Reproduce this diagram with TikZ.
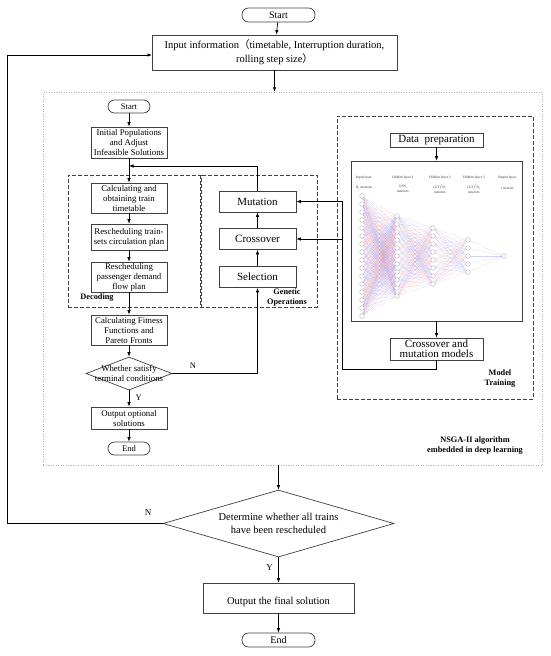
\documentclass[tikz,border=0pt]{standalone}
\usepackage{fontspec}
\setmainfont{Liberation Serif}
\newfontfamily\cjk{Noto Sans CJK SC}
\usetikzlibrary{arrows.meta,shapes.geometric,positioning,calc}
\definecolor{boxgray}{HTML}{404040}
\definecolor{netblue}{HTML}{6F6FF2}
\definecolor{netred}{HTML}{F07878}
\tikzset{
	arr/.style={-{Latex[length=4.5pt,width=3.5pt]}, line width=0.7pt},
	flowbox/.style={draw=boxgray, line width=0.7pt, align=center, inner sep=1pt, font=\fontsize{11}{11}\selectfont},
	leftbox/.style={flowbox, minimum width=76pt, font=\fontsize{8.8}{10}\selectfont},
	gobox/.style={flowbox, minimum width=77pt, minimum height=21pt},
	terminal/.style={draw=boxgray, line width=0.7pt, rounded corners=6.5pt, align=center, inner sep=0pt},
	decide/.style={diamond, draw=boxgray, line width=0.7pt, inner sep=0pt, align=center},
	dashbox/.style={draw=boxgray, line width=0.8pt, dash pattern=on 4pt off 2pt, inner sep=0pt},
	dotbox/.style={draw=gray!60, line width=0.5pt, dotted, inner sep=0pt},
	boldlab/.style={font=\fontsize{8.3}{10}\selectfont\bfseries, align=center, inner sep=0pt},
	neuron/.style={circle, draw=gray!75, fill=white, line width=0.3pt, minimum size=4.6pt, inner sep=0pt},
	synapse/.style={line width=0.25pt, draw opacity=0.3},
	layertxt/.style={font=\fontsize{3.6}{4.4}\selectfont, align=center, inner sep=0pt, text=black!80},
}
\begin{document}
\begin{tikzpicture}[x=1pt, y=-1pt]
	\useasboundingbox (0,0) rectangle (550,656);
	% outer flow
	\node[terminal, minimum width=73pt, minimum height=14pt, font=\fontsize{10}{10}\selectfont] (start) at (278.5,15) {Start};
	\node[flowbox, minimum width=245pt, minimum height=35pt, font=\fontsize{10.5}{10.5}\selectfont] (input) at (274.5,52.5) {Input information{\cjk （}timetable, Interruption duration,\\[2pt] rolling step size{\cjk ）}};
	\node[dotbox, minimum width=499pt, minimum height=373pt] (nsga) at (292.5,278.5) {};
	\node[decide, aspect=3.45, minimum width=231pt, minimum height=67pt, font=\fontsize{10.5}{12.5}\selectfont] (allres) at (278.5,523.5) {Determine whether all trains\\have been rescheduled};
	\node[flowbox, minimum width=151pt, minimum height=30pt, font=\fontsize{10.5}{10.5}\selectfont] (final) at (278.5,598) {\strut\\[-4pt]Output the final solution};
	\node[terminal, minimum width=73pt, minimum height=14pt, font=\fontsize{10}{10}\selectfont] (end) at (278.5,640) {End};
	\coordinate (fbin) at (152,55);
	\coordinate (fbcorner) at (7,523.5);
	\draw[arr] (start) -- (input);
	\draw[arr] (input) -- (input |- nsga.north);
	\draw[arr] (allres |- nsga.south) -- (allres);
	\draw[arr] (allres) -- (final) node[pos=0.4, left=2pt, font=\fontsize{9}{9}\selectfont]{Y};
	\draw[arr] (final) -- (end);
	\draw[arr] (allres.west) -- (fbcorner) |- (fbin);
	\node[font=\fontsize{9}{9}\selectfont] (nmain) at (148,513) {N};
	% decoding column
	\node[terminal, minimum width=42pt, minimum height=13pt, font=\fontsize{8.5}{8.5}\selectfont] (istart) at (129,106.5) {Start};
	\node[leftbox, minimum height=31pt] (init) at (129,142.5) {Initial Populations\\and Adjust\\Infeasible Solutions};
	\node[leftbox, minimum height=30pt] (calc) at (129,198) {Calculating and\\obtaining train\\timetable};
	\node[leftbox, minimum height=26pt] (trainset) at (129,237) {Rescheduling train-\\sets circulation plan};
	\node[leftbox, minimum height=30pt] (passflow) at (129,277) {Rescheduling\\passenger demand\\flow plan};
	\node[leftbox, minimum height=30pt] (fitness) at (129,330) {Calculating Fitness\\Functions and\\Pareto Fronts};
	\node[decide, aspect=2.6, minimum width=86pt, minimum height=33pt] (satisfy) at (129,373.5) {};
	\node[font=\fontsize{8.8}{10}\selectfont, align=center, inner sep=0pt] (satisfytxt) at (satisfy) {Whether satisfy\\terminal conditions};
	\node[leftbox, minimum height=22pt] (optsol) at (129,418) {Output optional\\solutions};
	\node[terminal, minimum width=42pt, minimum height=13pt, font=\fontsize{8.5}{8.5}\selectfont] (iend) at (129,448.5) {End};
	\node[dashbox, minimum width=133pt, minimum height=132pt] (decoding) at (134.5,241) {};
	\node[boldlab] (decodinglab) at (97,298) {Decoding};
	% genetic operations
	\node[gobox] (mutation) at (257.5,201.5) {Mutation};
	\node[gobox] (crossover) at (257.5,239) {Crossover};
	\node[gobox] (selection) at (257.5,277) {Selection};
	\node[dashbox, minimum width=117pt, minimum height=132pt] (genop) at (258.5,241) {};
	\node[boldlab] (genoplab) at (287,297) {Genetic\\Operations};
	\coordinate (join) at (129,166);
	\draw[arr] (istart) -- (init);
	\draw[arr] (init) -- (calc);
	\draw[arr] (mutation) |- (join);
	\draw[arr] (calc) -- (trainset);
	\draw[arr] (trainset) -- (passflow);
	\draw[arr] (passflow) -- (fitness);
	\draw[arr] (fitness) -- (satisfy);
	\draw[arr] (satisfy) -- (optsol) node[pos=0.45, right=3pt, font=\fontsize{8.5}{8.5}\selectfont]{Y};
	\draw[arr] (optsol) -- (iend);
	\draw[arr] (satisfy.east) -| (selection.south);
	\node[font=\fontsize{8.5}{8.5}\selectfont] (nsmall) at (193,366) {N};
	\draw[arr] (selection) -- (crossover);
	\draw[arr] (crossover) -- (mutation);
	% model training
	\node[dashbox, minimum width=196pt, minimum height=283pt] (training) at (435,257.5) {};
	\node[flowbox, minimum width=93pt, minimum height=14pt] (dataprep) at (436.5,140) {Data\ \ preparation};
	\node[draw=boxgray, line width=0.8pt, minimum width=171pt, minimum height=160pt, inner sep=0pt] (netbox) at (436.5,241) {};
	\node[flowbox, minimum width=93pt, minimum height=22pt, font=\fontsize{11}{10}\selectfont] (cmmodel) at (436.5,349) {Crossover and\\mutation models};
	\node[boldlab] (traininglab) at (500,379) {Model\\Training};
	\node[boldlab] (nsgalab) at (475,446) {NSGA-II algorithm\\embedded in deep learning};
	\coordinate (mtturn) at (342,369);
	\draw[arr] (dataprep) -- (netbox);
	\draw[arr] (netbox) -- (cmmodel);
	\draw[arr] (cmmodel.south) |- (mtturn) |- (mutation.east);
	\draw[arr] (mtturn |- crossover.east) -- (crossover.east);
	% neural network
	\foreach \x/\n/\l in {362/16/1,397/11/2,433/8/3,468/5/4,504/1/5}
		\foreach \i in {1,...,\n}
			\node[neuron] (n\l-\i) at (\x,{256+(\i-(\n+1)/2)*8}) {};
	\pgfmathsetseed{7}
	\foreach \a/\na/\b/\nb in {1/16/2/11,2/11/3/8,3/8/4/5,4/5/5/1}
		\foreach \i in {1,...,\na}
			\foreach \j in {1,...,\nb}{
				\pgfmathtruncatemacro\pick{rnd<0.5}
				\ifnum\pick=1 \def\wcol{netblue}\else\def\wcol{netred}\fi
				\draw[synapse, draw=\wcol] (n\a-\i) -- (n\b-\j);
			}
	\node[layertxt] (l1lab) at (364,178) {Input layer};
	\node[layertxt] (l1num) at (364,188) {N\textsubscript{i} neurons};
	\node[layertxt] (l2lab) at (403,178) {Hidden layer 1};
	\node[layertxt] (l2num) at (403,189) {2/3N\textsubscript{i}\\neurons};
	\node[layertxt] (l3lab) at (440,178) {Hidden layer 2};
	\node[layertxt] (l3num) at (440,189) {(2/3)\textsuperscript{2}N\textsubscript{i}\\neurons};
	\node[layertxt] (l4lab) at (474,178) {Hidden layer 3};
	\node[layertxt] (l4num) at (474,189) {(2/3)\textsuperscript{3}N\textsubscript{i}\\neurons};
	\node[layertxt] (l5lab) at (507,178) {Output layer};
	\node[layertxt] (l5num) at (507,188) {1 neuron};
\end{tikzpicture}
\end{document}
